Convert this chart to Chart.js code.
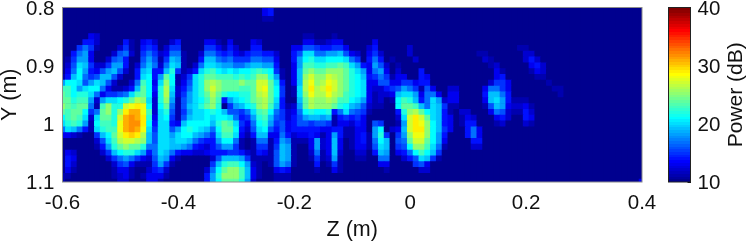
<!DOCTYPE html>
<html>
<head>
<meta charset="utf-8">
<title>Power map</title>
<script src="https://cdn.jsdelivr.net/npm/chart.js@4"></script>
<style>
  body { margin: 0; background: #fff; }
  canvas { position: absolute; left: 0; top: 0; }
</style>
</head>
<body>
<canvas id="mapChart" width="747" height="243"></canvas>
<canvas id="barChart" width="747" height="243"></canvas>
<script>
var zTicks = [-0.6, -0.4, -0.2, 0, 0.2, 0.4];
var yTicks = [0.8, 0.9, 1, 1.1];
var powerTicks = [10, 20, 30, 40];
var powerMin = 10;
var powerMax = 40;
var zStart = -0.6;
var yStart = 0.8;
var gridStep = 0.01;
var zCount = 101;

// one list per row of the map (y = 0.80 ... 1.10), each run is [first column, values...]
// everything not listed sits at the 10 dB floor
var row00 = [[35,13,14]];
var row01 = [[35,13,14]];
var row02 = [[35,11,11]];
var row03 = [];
var row04 = [];
var row05 = [[5,13,12],[42,11,11],[47,11]];
var row06 = [[4,14,14,12],[11,14,11],[14,13,14,12],[19,12,14],[25,13,13,11],[29,13],[33,13,12],[42,13,13,11,11,12,13,13],[54,13]];
var row07 = [[3,15,17,15,11],[10,12,15,11],[14,14,15,14],[18,12,15,15],[25,15,15,13,11,14,12],[33,14,14],[40,13,13,16,16,15,14,14,15,15,13],[53,12,14],[60,12],[79,11,11]];
var row08 = [[2,14,17,18,13],[9,12,16,17,12],[14,15,17,15,12,13,17,17,11],[24,12,17,17,15,14,15,13,12,14,15,15,14,14,12],[40,14,16,20,20,17,17,18,18,19,16,13,12],[53,13,15,12],[60,12],[72,11,11],[80,12,12]];
var row09 = [[1,11,15,18,18,13],[8,12,16,17,14],[14,16,18,16,11,15,19,18,11],[24,14,19,19,17,16,17,15,15,15,17,17,16,16,13],[40,14,18,21,22,20,20,21,21,21,20,17,15],[53,14,17,14],[57,11],[61,12],[73,12,11],[80,12,14,12]];
var row10 = [[1,12,16,20,19,15,12,12,15,18,18,14],[13,12,17,19,17,12,17,20,19,11],[23,12,17,20,20,19,18,18,17,17,18,19,19,18,18,14],[40,13,18,23,23,22,22,23,23,24,23,20,18,14,13,18,16,12],[58,11],[74,11,12],[81,13,14,12]];
var row11 = [[1,13,17,21,18,14,13,16,18,19,16,12],[13,14,19,20,14,14,19,22,15,11,12,14,20,22,23,21,20,21,20,21,21,22,23,22,21,15,11],[40,13,19,24,25,24,24,25,25,25,24,22,20,18,13,17,18,13],[58,12],[62,14],[75,13,11],[81,11,13,12]];
var row12 = [[0,11,14,19,21,17,15,16,19,19,16,12],[13,14,20,21,14,18,24,21,11,12,15,20,22,24,24,23,23,23,22,23,22,23,25,25,22,18,11],[40,13,19,25,27,25,25,27,26,25,24,22,21,19,14,15,17,15,11,13,13],[62,14,13],[75,13,14],[82,11,11]];
var row13 = [[0,18,21,21,20,16,18,20,19,16,12],[12,12,17,23,21,13,20,25,21,11,13,16,20,22,25,26,25,24,24,24,25,24,24,27,27,24,20,14],[40,13,19,26,28,25,26,28,27,25,24,22,21,20,13,13,16,16,13,13,15,15,13,14,14],[74,12,15,15,13],[84,11]];
var row14 = [[0,23,23,21,18,20,21,21,17,13,11,11,12,14,19,24,21,14,22,26,20,12,14,17,20,22,25,27,25,24,24,24,23,23,24,27,28,24,21,15],[40,11,20,26,29,26,27,29,27,25,24,22,21,20,13,12,12,14,15,16,18,17,15,11,16,13],[67,12,12],[73,13,17,17,15,13],[85,11,11]];
var row15 = [[0,24,23,21,22,22,20,17,13,15,15,16,17,20,23,24,21,13,22,26,19,12,15,18,20,22,24,26,24,22,21,21,22,22,24,26,27,24,21,15],[40,11,20,25,28,26,26,28,26,25,23,22,21,20,13,11,12,12,13,19,20,20,18,13,17,17,13],[67,13,13],[73,14,19,19,17,14],[86,11]];
var row16 = [[0,24,24,22,23,23,18,12,18,20,20,21,22,24,26,25,20,12,22,25,18,11,16,18,20,21,23,25,23,14,18,20,21,22,24,25,26,24,20,14],[41,19,24,26,25,25,26,25,23,23,21,20,18,13,11,12],[57,11,21,23,22,19,14,17,20,18,12,13,13],[73,13,19,20,18,14,11,11,11]];
var row17 = [[0,25,24,23,24,24,17,11,23,25,22,22,27,28,29,28,21,12,21,24,17,11,16,19,20,22,24,25,22,10,15,18,19,21,22,25,26,23,19,14,11,12,18,24,26,25,25,25,24,22,21,19,18,16,12,11,11],[58,21,24,24,23,19,17,20,19,15,11,11],[73,11,16,19,18,13,12,12,13,11]];
var row18 = [[0,24,23,24,24,21,15,17,24,25,22,25,29,31,31,28,23,12,20,22,16,11,15,18,20,20,21,22,21,19,16,16,15,17,20,23,24,21,17,15,12,13,17,21,22,21,21,22,14,17,20,17,16,15,11],[58,14,22,25,26,24,21,20,19,14,11],[69,12,12],[74,13,17,16,12,11,11,14,12]];
var row19 = [[0,21,23,24,23,20,12,20,24,24,22,27,31,32,31,29,22,13,20,21,15,11,16,19,20,20,21,20,21,21,20,17,14,15,18,22,23,19,16,15,12,14,16,18,19,19,18,19,11,14,15,14,15,13],[58,12,20,27,29,27,24,20,19,14,13],[69,11,13,12],[75,13,14,12],[80,14,13]];
var row20 = [[0,20,22,23,22,18,11,21,23,23,22,28,31,32,32,29,21,14,20,20,14,13,19,21,21,21,21,19,22,24,23,20,15,13,17,21,22,18,15,16,13,14,16,16,15,16,16,15,11,13,13,12,14,13],[54,16,15],[58,11,18,27,29,28,25,21,19,14,13],[69,11,14,14],[75,11,12],[80,12,11]];
var row21 = [[0,17,20,19,17,14,11,20,22,23,23,28,31,32,31,28,20,15,20,20,16,18,21,22,21,20,19,17,21,24,24,21,14,12,16,20,21,16,14,16,13,14,14,14,14,14,13,13,14,14,11,11,13,13],[54,18,21],[57,12,13,19,27,29,29,25,21,19,15,13],[70,14,17,13]];
var row22 = [[0,13,13,12,11],[6,15,19,21,24,27,29,30,29,26,19,16,20,20,18,20,21,21,19,18,17,15,20,23,23,20,13,11,14,19,19,13,13,17,14,12,13,13,14,13,11,13,18,14,11,11,13,14,11,18,22,15,10,15,18,25,28,28,25,21,18,14],[70,14,17,13]];
var row23 = [[6,12,16,20,23,26,27,27,26,25,19,16,20,20,19,20,20,19,17,15,14,14,18,21,21,17,11,10,11,17,17,11,14,18,17,11,11,11,13,18,12,13,19,13,10,11,13,14,11,17,21,19,10,16,17,24,27,27,24,21,18,13],[71,14,14]];
var row24 = [[6,11,14,18,22,24,25,24,24,22,17,17,20,20,19,19,18,17,14,13,12,14,16,18,18,15,11,10,11,15,15,11,15,19,18,11,10,10,13,18,12,13,19,13,10,11,13,13,11,16,20,19,10,15,16,21,25,25,23,20,17,11],[71,12,12]];
var row25 = [[1,13,12],[7,12,15,19,21,22,22,20,18,14,17,20,19,17,14,13,13,12,12,13,14,14,14,15,15,14,12,11,14,13,11,16,19,18,11],[43,12,17,11,13,19,12,10,10,12,12],[54,14,19,18,10,13,14,17,21,23,21,19,15]];
var row26 = [[1,14,13],[8,12,15,17,18,17,15,13,12,16,19,18,13,11],[26,12,16,19,19,19,18,15,11,11,11,11,16,19,18,11],[43,11,15,11,12,18,11,10,10,11,11],[55,17,17],[59,12,14,16,20,19,15,11]];
var row27 = [[1,14,12],[9,12,15,16,13,11,11,11,15,18,15,11],[26,15,19,22,23,23,21,18,12,11,10,11,16,18,17,11],[44,14,10,11,15,11],[55,13,13],[61,15,16,13]];
var row28 = [[1,13,11],[9,11,13,13,11],[15,12,14,15,12],[25,12,17,21,24,25,25,23,19,13,11],[37,13,14,13],[44,11],[47,13,11],[56,11],[62,12,12]];
var row29 = [[0,11,11],[9,11,12,13,11],[14,11,13,13,13,11],[25,14,18,22,25,25,25,23,19,13,11],[37,11,11,11]];
var row30 = [[0,11],[10,12,12],[15,13,13,11],[25,14,18,21,24,24,24,22,18,12],[37,11,11,11],[100,13]];

var powerRows = [row00,row01,row02,row03,row04,row05,row06,row07,row08,row09,row10,row11,row12,row13,row14,row15,
  row16,row17,row18,row19,row20,row21,row22,row23,row24,row25,row26,row27,row28,row29,row30];

// the usual 64 step jet colormap
function jetColor(t) {
  var i = Math.min(63, Math.floor(t * 64));
  var x = (i + 1) / 64;
  function ramp(c) { return Math.round(255 * Math.max(0, Math.min(1, 1.5 - Math.abs(4 * x - c)))); }
  return 'rgb(' + ramp(3) + ',' + ramp(2) + ',' + ramp(1) + ')';
}
function powerColor(v) {
  return jetColor((v - powerMin) / (powerMax - powerMin));
}

var cells = [];
powerRows.forEach(function(runs, r) {
  var values = new Array(zCount).fill(powerMin);
  runs.forEach(function(run) {
    for (var k = 1; k < run.length; k++) values[run[0] + k - 1] = run[k];
  });
  values.forEach(function(v, c) {
    cells.push({ x: zStart + c * gridStep, y: yStart + r * gridStep, v: v });
  });
});

var fontFamily = '"Liberation Sans", Arial, sans-serif';
var fontSize = 20.5;
var titleFont = { size: 21.5 };
Chart.defaults.font.family = fontFamily;
Chart.defaults.font.size = fontSize;
Chart.defaults.color = '#111';
Chart.defaults.animation = false;

function frame(color) {
  return {
    id: 'frame',
    beforeDatasetsDraw: function(chart) {
      var a = chart.chartArea, ctx = chart.ctx;
      ctx.save();
      ctx.fillStyle = powerColor(powerMin);
      ctx.fillRect(a.left, a.top, a.right - a.left, a.bottom - a.top);
      ctx.restore();
    },
    afterDraw: function(chart) {
      var a = chart.chartArea, ctx = chart.ctx;
      ctx.save();
      ctx.strokeStyle = color;
      ctx.lineWidth = 1;
      ctx.strokeRect(a.left, a.top, a.right - a.left, a.bottom - a.top);
      ctx.restore();
    }
  };
}

// chart.js turns a right axis title the other way round, the reference reads bottom to top
var powerTitle = {
  id: 'powerTitle',
  afterDraw: function(chart) {
    var a = chart.chartArea, ctx = chart.ctx;
    ctx.save();
    ctx.translate(736, (a.top + a.bottom) / 2);
    ctx.rotate(-Math.PI / 2);
    ctx.font = '21px ' + fontFamily;
    ctx.fillStyle = '#111';
    ctx.textAlign = 'center';
    ctx.textBaseline = 'middle';
    ctx.fillText('Power (dB)', 0, 0);
    ctx.restore();
  }
};

function tickLabel(v) { return String(+Number(v).toFixed(1)); }

new Chart(document.getElementById('mapChart'), {
  type: 'scatter',
  data: {
    datasets: [{
      data: cells,
      pointStyle: 'rect',
      pointRadius: 4.6,
      pointHoverRadius: 4.6,
      borderWidth: 0,
      clip: 0,
      backgroundColor: cells.map(function(c) { return powerColor(c.v); })
    }]
  },
  options: {
    responsive: false,
    events: [],
    layout: { padding: { top: 7.5, right: 105, left: 0, bottom: 0 } },
    plugins: { legend: { display: false }, tooltip: { enabled: false } },
    scales: {
      x: {
        type: 'linear',
        min: zStart,
        max: 0.4,
        grid: { display: false, drawTicks: false },
        border: { display: false },
        afterBuildTicks: function(s) { s.ticks = zTicks.map(function(v) { return { value: v }; }); },
        afterFit: function(s) { s.height = 61; s.paddingLeft = 0; s.paddingRight = 0; },
        ticks: { autoSkip: false, maxRotation: 0, padding: 9, callback: tickLabel },
        title: { display: true, text: 'Z (m)', font: titleFont, padding: { top: 0, bottom: 0 } }
      },
      y: {
        type: 'linear',
        reverse: true,
        min: yStart,
        max: 1.1,
        grid: { display: false, drawTicks: false },
        border: { display: false },
        afterBuildTicks: function(s) { s.ticks = yTicks.map(function(v) { return { value: v }; }); },
        afterFit: function(s) { s.width = 62.5; s.paddingTop = 0; s.paddingBottom = 0; },
        ticks: { autoSkip: false, padding: 8, labelOffset: 1.5, callback: tickLabel },
        title: { display: true, text: 'Y (m)', font: titleFont, padding: { top: -3, bottom: 0 } }
      }
    }
  },
  plugins: [frame('#8c8c8c')]
});

function barGradient(ctx) {
  var chart = ctx.chart, s = chart.scales.y;
  if (!s || !chart.chartArea) return powerColor(powerMin);
  var g = chart.ctx.createLinearGradient(0, s.getPixelForValue(powerMin), 0, s.getPixelForValue(powerMax));
  for (var i = 0; i < 64; i++) {
    g.addColorStop(i / 64, jetColor(i / 64));
    g.addColorStop((i + 1) / 64, jetColor(i / 64));
  }
  return g;
}

new Chart(document.getElementById('barChart'), {
  type: 'bar',
  data: {
    labels: ['Power'],
    datasets: [{
      data: [[powerMin, powerMax]],
      barPercentage: 1,
      categoryPercentage: 1,
      borderWidth: 0,
      backgroundColor: barGradient
    }]
  },
  options: {
    responsive: false,
    events: [],
    layout: { padding: { top: 7.5, right: 0, left: 668.5, bottom: 61 } },
    plugins: { legend: { display: false }, tooltip: { enabled: false } },
    scales: {
      x: { display: false },
      y: {
        position: 'right',
        min: powerMin,
        max: powerMax,
        grid: { drawOnChartArea: false, tickLength: -3, color: '#111', tickColor: '#111' },
        border: { display: false },
        afterBuildTicks: function(s) { s.ticks = powerTicks.map(function(v) { return { value: v }; }); },
        afterFit: function(s) { s.width = 56.5; s.paddingTop = 0; s.paddingBottom = 0; },
        ticks: { padding: 10, labelOffset: 1.5, autoSkip: false }
      }
    }
  },
  plugins: [frame('#222'), powerTitle]
});
</script>
</body>
</html>
